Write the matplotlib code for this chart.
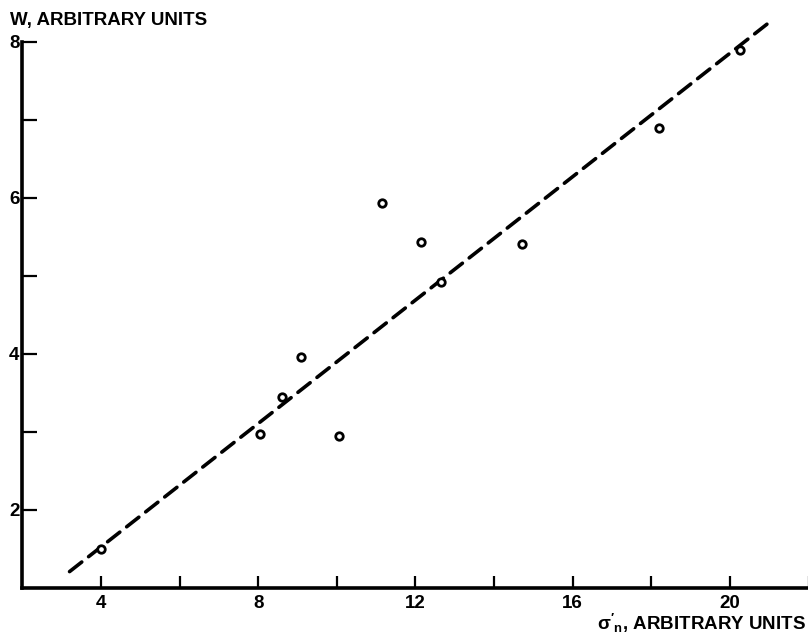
import matplotlib
matplotlib.use("Agg")
import matplotlib.pyplot as plt

# measured points: normal stress (x) vs W (y)
sigma_n = [4.0, 8.05, 8.6, 9.1, 10.05, 11.15, 12.15, 12.65, 14.7, 18.2, 20.25]
w_vals = [1.5, 2.97, 3.45, 3.96, 2.95, 5.93, 5.44, 4.92, 5.41, 6.9, 7.89]

# straight-line fit drawn dashed
fit_x = [3.2, 20.95]
fit_y = [1.21, 8.23]

x_ticks = [4, 6, 8, 10, 12, 14, 16, 18, 20, 22]
x_ticklabels = ["4", "", "8", "", "12", "", "16", "", "20", ""]
y_ticks = [2, 3, 4, 5, 6, 7, 8]
y_ticklabels = ["2", "", "4", "", "6", "", "8"]

plt.rcParams["font.family"] = ["Liberation Sans", "DejaVu Sans"]
plt.rcParams["font.weight"] = "bold"
plt.rcParams["mathtext.fontset"] = "custom"
plt.rcParams["mathtext.bf"] = "Liberation Sans:bold"
plt.rcParams["mathtext.rm"] = "Liberation Sans:bold"
plt.rcParams["mathtext.default"] = "bf"

fig = plt.figure(figsize=(8.08, 6.41), dpi=100)
ax = fig.add_axes([0.0277, 0.0827, 0.973, 0.852])

ax.plot(fit_x, fit_y, color="black", lw=2.6, dashes=(4.3, 2.4),
        dash_capstyle="round", clip_on=False, zorder=2)
ax.plot(sigma_n, w_vals, "o", ms=5.4, mfc="white", mec="black", mew=2.0,
        clip_on=False, zorder=3)

ax.set_xlim(2, 22)
ax.set_ylim(1, 8)

for side in ["top", "right"]:
    ax.spines[side].set_visible(False)
for side in ["left", "bottom"]:
    ax.spines[side].set_linewidth(2.6)

ax.set_xticks(x_ticks)
ax.set_xticklabels(x_ticklabels)
ax.set_yticks(y_ticks)
ax.set_yticklabels(y_ticklabels)
ax.tick_params(axis="x", direction="in", length=9, width=1.6, pad=5, labelsize=13.5)
ax.tick_params(axis="y", direction="in", length=11, width=1.6, pad=2, labelsize=13.5)
for lbl in ax.get_xticklabels() + ax.get_yticklabels():
    lbl.set_fontweight("bold")

fig.text(10 / 808, 1 - 25 / 641, "W, ARBITRARY UNITS", fontsize=13.5,
         fontweight="bold", ha="left", va="baseline")
fig.text(806 / 808, 1 - 630 / 641, r"$\sigma'_{n}$, ARBITRARY UNITS", fontsize=13.5,
         fontweight="bold", ha="right", va="baseline")

fig.savefig("out.png", dpi=100)
